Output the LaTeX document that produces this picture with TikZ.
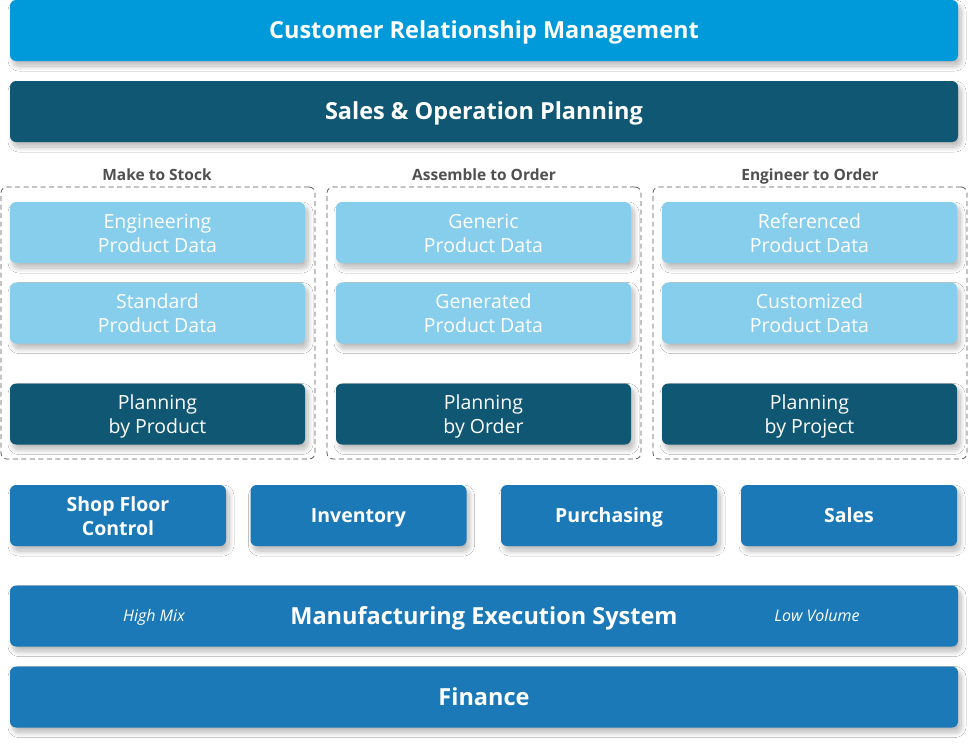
\documentclass[tikz,border=0pt]{standalone}
\usepackage{fontspec}
\setmainfont{Open Sans}
\usetikzlibrary{shadows.blur}
\definecolor{crmc}{RGB}{0,154,218}
\definecolor{darkc}{RGB}{15,87,115}
\definecolor{lightc}{RGB}{135,206,237}
\definecolor{midc}{RGB}{26,121,182}
\definecolor{labc}{RGB}{80,80,80}
\definecolor{dashc}{RGB}{90,90,90}
\newcommand\mystrut{\rule[-0.25em]{0pt}{1.2em}}
\newcommand\topstrut{\rule[-0.25em]{0pt}{1.3em}}
\newcommand\twol[2]{\topstrut#1\\#2\mystrut}
\tikzset{
  boxbase/.style={rounded corners=6pt, inner sep=0pt, text=white, align=center,
    execute at begin node=\mystrut, execute at end node=\mystrut,
    blur shadow={shadow xshift=3pt, shadow yshift=-5pt, shadow blur steps=14, shadow blur radius=5pt, shadow opacity=28}},
  wide/.style={boxbase, minimum width=948pt, minimum height=61pt, font=\fontsize{23.5}{27}\selectfont\bfseries},
  colbox/.style={boxbase, minimum width=295pt, minimum height=61pt, font=\fontsize{19.5}{24}\selectfont},
  lightbox/.style={colbox, fill=lightc},
  planbox/.style={colbox, fill=darkc},
  rowbox/.style={boxbase, fill=midc, minimum width=216pt, minimum height=61pt, font=\fontsize{19.5}{24}\selectfont\bfseries},
  groupbox/.style={draw=dashc, dash pattern=on 5pt off 3.5pt, line width=0.8pt, rounded corners=6pt, minimum width=314pt, minimum height=272pt, inner sep=0pt},
  grouplab/.style={text=labc, font=\fontsize{15.5}{18}\selectfont\bfseries, execute at begin node=\mystrut},
  sidelab/.style={text=white, font=\fontsize{16}{18}\selectfont\itshape, execute at begin node=\mystrut}
}
\begin{document}
\begin{tikzpicture}[x=1pt,y=-1pt]
\useasboundingbox (0,0) rectangle (978,748);
\fill[white] (0,0) rectangle (978,748);
% top bars
\node[wide, fill=crmc] (crm) at (484,30.5) {Customer Relationship Management};
\node[wide, fill=darkc] (sop) at (484,111.5) {Sales \& Operation Planning};
% group boxes
\node[groupbox] (g1) at (158,323) {};
\node[groupbox] (g2) at (484,323) {};
\node[groupbox] (g3) at (810,323) {};
\node[grouplab] (l1) at (157,175) {Make to Stock};
\node[grouplab] (l2) at (484,175) {Assemble to Order};
\node[grouplab] (l3) at (810,175) {Engineer to Order};
% column 1
\node[lightbox] (epd) at (157.5,232.5) {\twol{Engineering}{Product Data}};
\node[lightbox] (spd) at (157.5,313) {\twol{Standard}{Product Data}};
\node[planbox] (pbp) at (157.5,414) {\twol{Planning}{by Product}};
% column 2
\node[lightbox] (gpd) at (483.5,232.5) {\twol{Generic}{Product Data}};
\node[lightbox] (gnpd) at (483.5,313) {\twol{Generated}{Product Data}};
\node[planbox] (pbo) at (483.5,414) {\twol{Planning}{by Order}};
% column 3
\node[lightbox] (rpd) at (809.5,232.5) {\twol{Referenced}{Product Data}};
\node[lightbox] (cpd) at (809.5,313) {\twol{Customized}{Product Data}};
\node[planbox] (pbj) at (809.5,414) {\twol{Planning}{by Project}};
% row of modules
\node[rowbox] (sfc) at (118,515.5) {\twol{Shop Floor}{Control}};
\node[rowbox] (inv) at (358.5,515.5) {Inventory};
\node[rowbox] (pur) at (609,515.5) {Purchasing};
\node[rowbox] (sal) at (849,515.5) {Sales};
% bottom bars
\node[wide, fill=midc] (mes) at (484,616) {Manufacturing Execution System};
\node[sidelab] (hm) at (154,616) {High Mix};
\node[sidelab] (lv) at (817,616) {Low Volume};
\node[wide, fill=midc] (fin) at (484,697) {Finance};
\end{tikzpicture}
\end{document}
